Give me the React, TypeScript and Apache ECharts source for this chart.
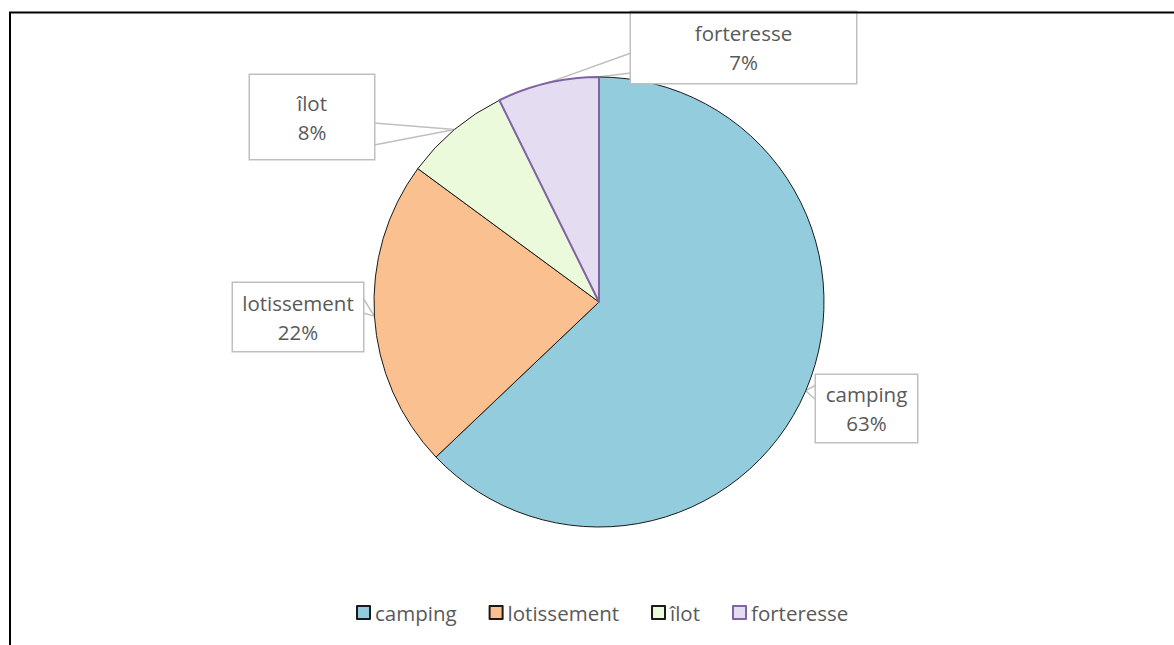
import React, { useEffect, useRef } from "react";
import * as echarts from "echarts";

const categories = ["camping", "lotissement", "îlot", "forteresse"];
const shares = [62.9, 22.2, 7.6, 7.3];

const sliceColors = ["#93CDDD", "#FAC090", "#EBFADB", "#E4DCF1"];
const sliceBorders = ["#1a1a1a", "#1a1a1a", "#1a1a1a", "#8064A2"];
const sliceBorderWidths = [1, 1, 1, 2];

// callout boxes: [left, top, width, height]
const calloutBoxes = [
  [816, 375, 101, 67],
  [233, 283, 130, 68],
  [250, 75, 124, 84],
  [631, 12, 225, 71],
];
// pointer anchors on box edge: [x, y1, y2]
const pointerAnchors = [
  [816, 385, 400],
  [363, 298, 313],
  [374, 123, 145],
  [631, 53, 73],
];

const FONT = "'Open Sans', 'Liberation Sans', sans-serif";
const FONT_SIZE = 20.5;
const LINE_H = 29;

export default function App() {
  const ref = useRef<HTMLDivElement>(null);
  useEffect(() => {
    document.body.style.margin = "0";
    if (!ref.current) return;
    const chart = echarts.init(ref.current, undefined, { renderer: "svg" });
    const data = categories.map((name, i) => {
      const [, , w, h] = calloutBoxes[i];
      const pv = (h - 2 * LINE_H) / 2;
      return {
        name,
        value: shares[i],
        itemStyle: {
          color: sliceColors[i],
          borderColor: sliceBorders[i],
          borderWidth: sliceBorderWidths[i],
        },
        label: {
          width: w - 2,
          padding: [pv, 1, pv, 1],
        },
      };
    });
    chart.setOption({
      animation: false,
      backgroundColor: "#fff",
      graphic: [
        {
          type: "rect",
          silent: true,
          z: 100,
          shape: { x: 10, y: 12.5, width: 1400, height: 900 },
          style: { fill: "none", stroke: "#000", lineWidth: 2 },
        },
      ],
      legend: {
        left: 356,
        top: 602,
        padding: 0,
        itemWidth: 13,
        itemHeight: 13,
        itemGap: 32,
        icon: "rect",
        textStyle: { fontFamily: FONT, fontSize: FONT_SIZE, color: "#595959" },
        data: categories,
      },
      series: [
        {
          type: "pie",
          center: [599, 302],
          radius: 225,
          startAngle: 90,
          clockwise: true,
          avoidLabelOverlap: false,
          emphasis: { disabled: true },
          label: {
            show: true,
            position: "outside",
            formatter: (p: any) => `${p.name}\n${Math.round(p.percent)}%`,
            fontFamily: FONT,
            fontSize: FONT_SIZE,
            lineHeight: LINE_H,
            color: "#595959",
            backgroundColor: "#fff",
            borderColor: "#BFBFBF",
            borderWidth: 1.5,
            align: "center",
          },
          labelLine: {
            show: true,
            length: 10,
            length2: 10,
            lineStyle: { color: "#BFBFBF", width: 1.5 },
          },
          labelLayout: (params: any) => {
            const i = params.dataIndex;
            const [l, t, w] = calloutBoxes[i];
            const [ax, y1, y2] = pointerAnchors[i];
            const tip = params.labelLinePoints ? params.labelLinePoints[0] : null;
            const out: any = {
              x: l + w / 2,
              y: t,
              align: "center",
              verticalAlign: "top",
            };
            if (tip) out.labelLinePoints = [[ax, y1], tip, [ax, y2]];
            return out;
          },
          data,
        },
      ],
    });
    return () => chart.dispose();
  }, []);
  return <div ref={ref} style={{ width: 1174, height: 645 }} />;
}
